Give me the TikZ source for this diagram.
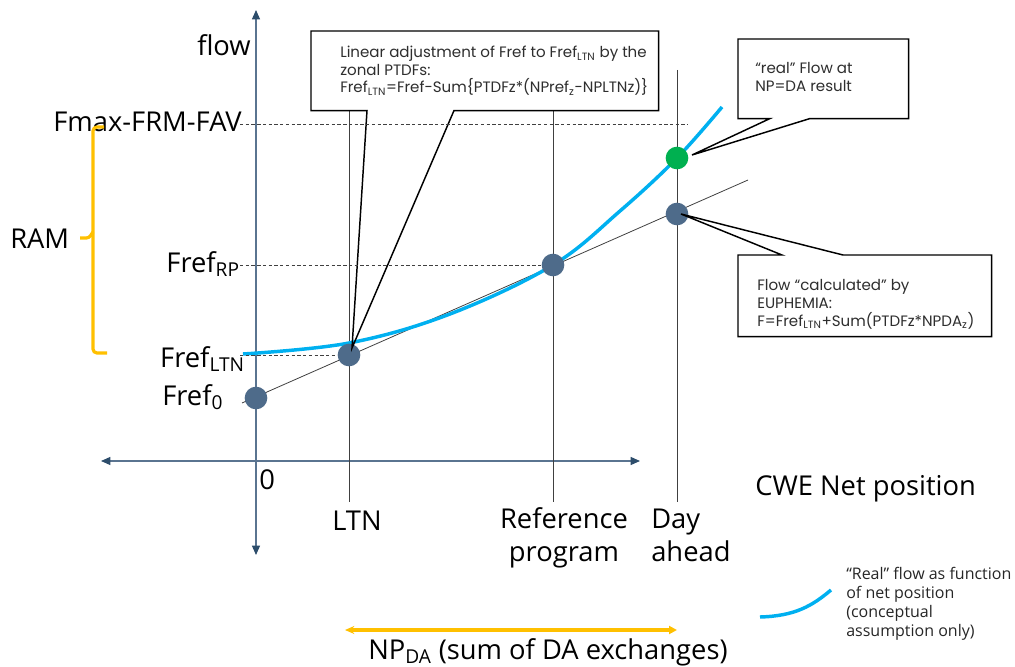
\documentclass[tikz,border=0pt]{standalone}
\usepackage{fontspec}
\setmainfont{Open Sans}
\newfontfamily\callfont{Poppins}
\usetikzlibrary{arrows.meta,calc}
\definecolor{axisc}{HTML}{5A7490}
\definecolor{tipc}{HTML}{2D4D6B}
\definecolor{dotc}{HTML}{4E6B8A}
\definecolor{greenc}{HTML}{00B050}
\definecolor{bluec}{HTML}{00B0F0}
\definecolor{goldc}{HTML}{FFC000}
\definecolor{guidec}{HTML}{404040}
\tikzset{
  axis/.style={draw=axisc, line width=0.9pt, {Triangle[length=7pt,width=6pt,color=tipc]}-{Triangle[length=7pt,width=6pt,color=tipc]}},
  guide/.style={draw=guidec, line width=0.7pt},
  dashguide/.style={draw=guidec, line width=0.6pt, dash pattern=on 2.5pt off 1.8pt},
  dot/.style={circle, fill=dotc, minimum size=17pt, inner sep=0pt},
  gdot/.style={circle, fill=greenc, minimum size=17pt, inner sep=0pt},
  box/.style={fill=white, inner sep=0pt, anchor=north west},
  callout/.style={draw=black, line width=1.1pt, line join=miter},
  calltext/.style={anchor=base west, inner sep=0pt, align=left, text=black!82, font=\callfont\fontsize{11.3}{13.3}\selectfont},
  lab/.style={inner sep=0pt, font=\fontsize{20.5}{24.75}\selectfont},
  legtext/.style={anchor=base west, inner sep=0pt, align=left, font=\fontsize{12}{14.5}\selectfont, text=black!85},
  gold/.style={draw=goldc, line width=2.4pt},
  realflow/.style={draw=bluec, line width=2.6pt},
}
\begin{document}
\begin{tikzpicture}[x=0.75pt,y=-0.75pt]
\useasboundingbox (0,0) rectangle (1015,667);
% axes
\draw[axis] (256,555) -- (256,10);
\draw[axis] (101,461) -- (640,461);
% vertical guides
\draw[guide] (349,110) -- (349,502);
\draw[guide] (553,110) -- (553,502);
\draw[guide] (677,70) -- (677,502);
% linear approx
\draw[draw=guidec, line width=0.6pt] (242,403) -- (748,180);
% real flow curve
\draw[realflow] plot[smooth, tension=0.6] coordinates {(243,354) (349,343) (450,314) (553,265) (620,211) (677,158) (722,107)};
% points
\node[dot] (p0) at (256,398) {};
\node[dot] (pLTN) at (349,355) {};
\node[dot] (pRP) at (553,265) {};
\node[dot] (pDA) at (677,214) {};
\node[gdot] (pReal) at (677,158) {};
% callout 1
\node[box, minimum width=260.25pt, minimum height=59.25pt] (c1) at (311,31) {};
\coordinate (t1) at (352,348);
\draw[callout] ($(c1.south west)+(56,0)$) -- (t1) -- ($(c1.south west)+(143,0)$) -- (c1.south east) -- (c1.north east) -- (c1.north west) -- (c1.south west) -- cycle;
\node[calltext] (c1t1) at (340,58) {Linear adjustment of Fref to Fref\textsubscript{LTN} by the};
\node[calltext] (c1t2) at (340,75.5) {zonal PTDFs:};
\node[calltext] (c1t3) at (340,93) {Fref\textsubscript{LTN}=Fref-Sum\{PTDFz*(NPref\textsubscript{z}-NPLTNz)\}};
% callout 2
\node[box, minimum width=127.5pt, minimum height=59.25pt] (c2) at (738,39) {};
\coordinate (t2) at (692,155);
\draw[callout] ($(c2.south west)+(32,0)$) -- (t2) -- ($(c2.south west)+(72,0)$) -- (c2.south east) -- (c2.north east) -- (c2.north west) -- (c2.south west) -- cycle;
\node[calltext] (c2t1) at (755,74) {“real” Flow at};
\node[calltext] (c2t2) at (755,92) {NP=DA result};
% callout 3
\node[box, minimum width=189.75pt, minimum height=60.75pt] (c3) at (738,255) {};
\coordinate (t3) at (681,214);
\draw[callout] ($(c3.north west)+(44,0)$) -- (t3) -- ($(c3.north west)+(105,0)$) -- (c3.north east) -- (c3.south east) -- (c3.south west) -- (c3.north west) -- cycle;
\node[calltext] (c3t1) at (757,290) {Flow “calculated” by};
\node[calltext] (c3t2) at (757,308) {EUPHEMIA:};
\node[calltext] (c3t3) at (757,326) {F=Fref\textsubscript{LTN}+Sum(PTDFz*NPDA\textsubscript{z})};
% dashed levels
\draw[dashguide] (240,124) -- (688,124);
\draw[dashguide] (240,265) -- (pRP);
\draw[dashguide] (240,355) -- (pLTN);
% labels
\node[lab, anchor=base west] (lflow) at (197,56) {flow};
\node[lab, anchor=base east] (lfmax) at (242,132) {Fmax-FRM-FAV};
\node[lab, anchor=base east] (lrp) at (240,272) {Fref\textsubscript{RP}};
\node[lab, anchor=base east] (lltn) at (245,367) {Fref\textsubscript{LTN}};
\node[lab, anchor=base west] (l0) at (162,405) {Fref\textsubscript{0}};
\node[lab, anchor=base west] (lram) at (10,248) {RAM};
\node[lab, anchor=base west] (lzero) at (259,489) {0};
\node[lab, anchor=base] (lltnx) at (357,530) {LTN};
\node[lab, anchor=base] (lref1) at (564,528) {Reference};
\node[lab, anchor=base] (lref2) at (564,561) {program};
\node[lab, anchor=base west] (lday1) at (651,528) {Day};
\node[lab, anchor=base west] (lday2) at (651,561) {ahead};
\node[lab, anchor=base west] (lcwe) at (755,495) {CWE Net position};
\node[lab, anchor=base west] (lnp) at (368,659) {NP\textsubscript{DA} (sum of DA exchanges)};
% RAM brace
\draw[gold, rounded corners=3pt] (104,127) -- (93,127) -- (93,353) -- (107,353);
\draw[gold, rounded corners=2pt] (80,238) -- (89,238) -- (93,232);
% NP_DA arrow
\draw[gold, {Stealth[length=7pt,width=6pt]}-{Triangle[length=6pt,width=6pt]}] (345,630) -- (677,630);
% legend
\draw[realflow] (760,617) .. controls (795,616) and (812,606) .. (831,590);
\node[legtext] (leg1) at (846,579) {“Real” flow as function};
\node[legtext] (leg2) at (846,598) {of net position};
\node[legtext] (leg3) at (846,617) {(conceptual};
\node[legtext] (leg4) at (846,636) {assumption only)};
\end{tikzpicture}
\end{document}
